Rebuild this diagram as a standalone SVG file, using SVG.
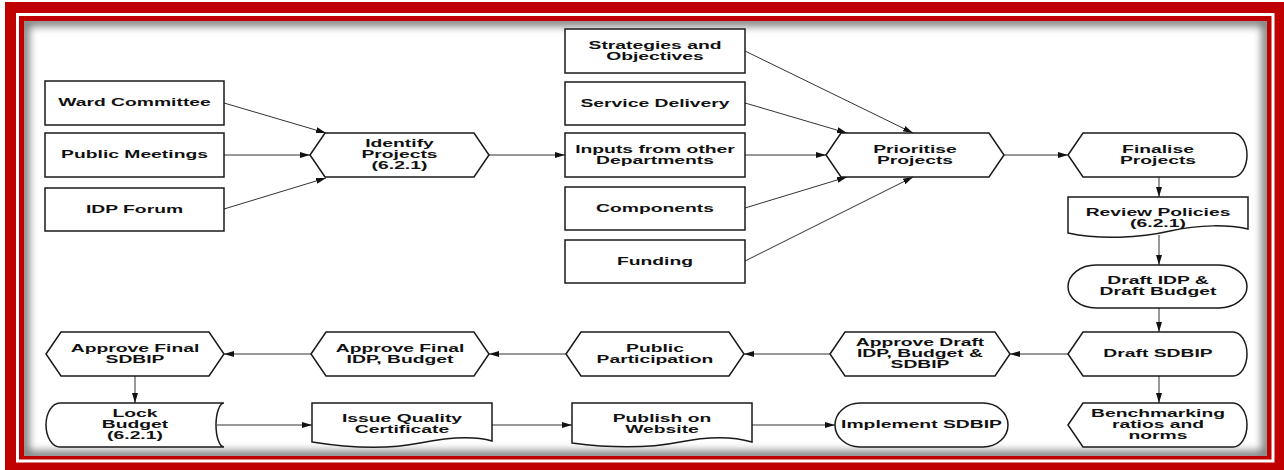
<svg xmlns="http://www.w3.org/2000/svg" width="1284" height="470" viewBox="0 0 1284 470">
<style>
.n{fill:#fff;stroke:#1a1a1a;stroke-width:1.5}
.t{font-family:"Liberation Sans",Arial,sans-serif;font-weight:bold;font-size:10px;fill:#111;text-anchor:middle}
.c{fill:none;stroke:#333;stroke-width:1;marker-end:url(#ah)}
</style>
<defs>
<marker id="ah" viewBox="0 0 10 10" refX="10" refY="5" markerWidth="10" markerHeight="10" markerUnits="userSpaceOnUse" orient="auto"><path d="M0,2 L10,5 L0,8 z" fill="#111"/></marker>
<filter id="blur" x="-5%" y="-5%" width="110%" height="110%"><feGaussianBlur stdDeviation="4"/></filter>
<clipPath id="pc"><rect x="24" y="21" width="1243" height="435"/></clipPath>
</defs>
<g id="frame">
<rect width="1284" height="470" fill="#fff"/>
<rect x="5" y="2" width="1279" height="468" fill="#c00000"/>
<rect x="17.5" y="14.5" width="1255.5" height="446.5" fill="none" stroke="#fff" stroke-width="3"/>
<rect x="24" y="21" width="1243" height="435" fill="#fff"/>
<g clip-path="url(#pc)"><rect x="24" y="21" width="1243" height="435" fill="none" stroke="#777" stroke-width="10" filter="url(#blur)"/></g>
</g>
<g id="connectors">
<line class="c" x1="224" y1="103" x2="326" y2="133"/>
<line class="c" x1="224" y1="155" x2="310" y2="155"/>
<line class="c" x1="224" y1="209" x2="326" y2="178"/>
<line class="c" x1="489" y1="155" x2="565" y2="155"/>
<line class="c" x1="745" y1="51" x2="913" y2="133"/>
<line class="c" x1="745" y1="103" x2="847" y2="133"/>
<line class="c" x1="745" y1="155" x2="826" y2="155"/>
<line class="c" x1="745" y1="208" x2="847" y2="177"/>
<line class="c" x1="745" y1="261" x2="913" y2="177"/>
<line class="c" x1="1004" y1="155" x2="1068" y2="155"/>
<line class="c" x1="1159" y1="177" x2="1159" y2="197"/>
<line class="c" x1="1159" y1="235" x2="1159" y2="265"/>
<line class="c" x1="1159" y1="308" x2="1159" y2="332"/>
<line class="c" x1="1159" y1="376" x2="1159" y2="403"/>
<line class="c" x1="1068" y1="354" x2="1010" y2="354"/>
<line class="c" x1="830" y1="354" x2="744" y2="354"/>
<line class="c" x1="566" y1="354" x2="489" y2="354"/>
<line class="c" x1="311" y1="354" x2="224" y2="354"/>
<line class="c" x1="135" y1="376" x2="135" y2="403"/>
<line class="c" x1="217" y1="425" x2="312" y2="425"/>
<line class="c" x1="492" y1="425" x2="572" y2="425"/>
<line class="c" x1="752" y1="425" x2="835" y2="425"/>
</g>
<g id="ward"><rect class="n" x="45" y="81" width="179" height="44"/><text class="t" transform="translate(134.5 0) scale(1.93 1)" y="106.5">Ward Committee</text></g>
<g id="public"><rect class="n" x="45" y="133" width="179" height="44"/><text class="t" transform="translate(134.5 0) scale(1.93 1)" y="158.5">Public Meetings</text></g>
<g id="forum"><rect class="n" x="45" y="188" width="179" height="43"/><text class="t" transform="translate(134.5 0) scale(1.93 1)" y="213">IDP Forum</text></g>
<g id="identify"><path class="n" d="M310,155 L325,133 L474,133 L489,155 L474,177 L325,177 Z"/><text class="t" transform="translate(399.5 0) scale(1.93 1)"><tspan x="0" y="147.5">Identify</tspan><tspan x="0" y="158.5">Projects</tspan><tspan x="0" y="169.5">(6.2.1)</tspan></text></g>
<g id="strategies"><rect class="n" x="565" y="29" width="180" height="44"/><text class="t" transform="translate(655 0) scale(1.93 1)"><tspan x="0" y="49">Strategies and</tspan><tspan x="0" y="60">Objectives</tspan></text></g>
<g id="service"><rect class="n" x="565" y="82" width="180" height="43"/><text class="t" transform="translate(655 0) scale(1.93 1)" y="107">Service Delivery</text></g>
<g id="inputs"><rect class="n" x="565" y="133" width="180" height="44"/><text class="t" transform="translate(655 0) scale(1.93 1)"><tspan x="0" y="153">Inputs from other</tspan><tspan x="0" y="164">Departments</tspan></text></g>
<g id="components"><rect class="n" x="565" y="187" width="180" height="43"/><text class="t" transform="translate(655 0) scale(1.93 1)" y="212">Components</text></g>
<g id="funding"><rect class="n" x="565" y="240" width="180" height="43"/><text class="t" transform="translate(655 0) scale(1.93 1)" y="265">Funding</text></g>
<g id="prioritise"><path class="n" d="M826,155 L841,133 L989,133 L1004,155 L989,177 L841,177 Z"/><text class="t" transform="translate(915 0) scale(1.93 1)"><tspan x="0" y="153">Prioritise</tspan><tspan x="0" y="164">Projects</tspan></text></g>
<g id="finalise"><path class="n" d="M1068,155 L1083,133 L1233,133 A14,22 0 0 1 1233,177 L1083,177 Z"/><text class="t" transform="translate(1158 0) scale(1.93 1)"><tspan x="0" y="153">Finalise</tspan><tspan x="0" y="164">Projects</tspan></text></g>
<g id="review"><path class="n" d="M1068,197 H1248 V229 C1230,225 1200,224 1170,231 C1140,238 1100,240 1068,233 Z"/><text class="t" transform="translate(1158 0) scale(1.93 1)"><tspan x="0" y="216">Review Policies</tspan><tspan x="0" y="227">(6.2.1)</tspan></text></g>
<g id="draftidp"><path class="n" d="M1096,265 H1219 A28,21.5 0 0 1 1219,308 H1096 A28,21.5 0 0 1 1096,265 Z"/><text class="t" transform="translate(1158 0) scale(1.93 1)"><tspan x="0" y="284.5">Draft IDP &amp;</tspan><tspan x="0" y="295.5">Draft Budget</tspan></text></g>
<g id="draftsdbip"><path class="n" d="M1068,354 L1083,332 L1233,332 A14,22 0 0 1 1233,376 L1083,376 Z"/><text class="t" transform="translate(1158 0) scale(1.93 1)" y="357.5">Draft SDBIP</text></g>
<g id="benchmarking"><path class="n" d="M1068,425 L1083,403 L1233,403 A14,22 0 0 1 1233,447 L1083,447 Z"/><text class="t" transform="translate(1158 0) scale(1.93 1)"><tspan x="0" y="417">Benchmarking</tspan><tspan x="0" y="428">ratios and</tspan><tspan x="0" y="439">norms</tspan></text></g>
<g id="approvedraft"><path class="n" d="M830,354 L845,332 L995,332 L1010,354 L995,376 L845,376 Z"/><text class="t" transform="translate(920 0) scale(1.93 1)"><tspan x="0" y="346.5">Approve Draft</tspan><tspan x="0" y="357.5">IDP, Budget &amp;</tspan><tspan x="0" y="368.5">SDBIP</tspan></text></g>
<g id="participation"><path class="n" d="M566,354 L581,332 L729,332 L744,354 L729,376 L581,376 Z"/><text class="t" transform="translate(655 0) scale(1.93 1)"><tspan x="0" y="352">Public</tspan><tspan x="0" y="363">Participation</tspan></text></g>
<g id="approvefinalidp"><path class="n" d="M311,354 L326,332 L474,332 L489,354 L474,376 L326,376 Z"/><text class="t" transform="translate(400 0) scale(1.93 1)"><tspan x="0" y="352">Approve Final</tspan><tspan x="0" y="363">IDP, Budget</tspan></text></g>
<g id="approvefinalsdbip"><path class="n" d="M46,354 L61,332 L209,332 L224,354 L209,376 L61,376 Z"/><text class="t" transform="translate(135 0) scale(1.93 1)"><tspan x="0" y="352">Approve Final</tspan><tspan x="0" y="363">SDBIP</tspan></text></g>
<g id="lockbudget"><path class="n" d="M60,403 H224 A8,22 0 0 0 224,447 H60 A14,22 0 0 1 60,403 Z"/><text class="t" transform="translate(135 0) scale(1.93 1)"><tspan x="0" y="417.5">Lock</tspan><tspan x="0" y="428.5">Budget</tspan><tspan x="0" y="439.5">(6.2.1)</tspan></text></g>
<g id="issue"><path class="n" d="M312,403 H492 V441 C475,436 450,437 420,443 C385,450 350,448 312,442 Z"/><text class="t" transform="translate(402 0) scale(1.93 1)"><tspan x="0" y="422.5">Issue Quality</tspan><tspan x="0" y="433.5">Certificate</tspan></text></g>
<g id="publish"><path class="n" d="M572,403 H752 V442 C735,437 710,436 680,442 C645,449 610,448 572,443 Z"/><text class="t" transform="translate(662 0) scale(1.93 1)"><tspan x="0" y="422.5">Publish on</tspan><tspan x="0" y="433.5">Website</tspan></text></g>
<g id="implement"><path class="n" d="M860,403 H983 A25,22 0 0 1 983,447 H860 A25,22 0 0 1 860,403 Z"/><text class="t" transform="translate(921.5 0) scale(1.93 1)" y="428.5">Implement SDBIP</text></g>
</svg>
